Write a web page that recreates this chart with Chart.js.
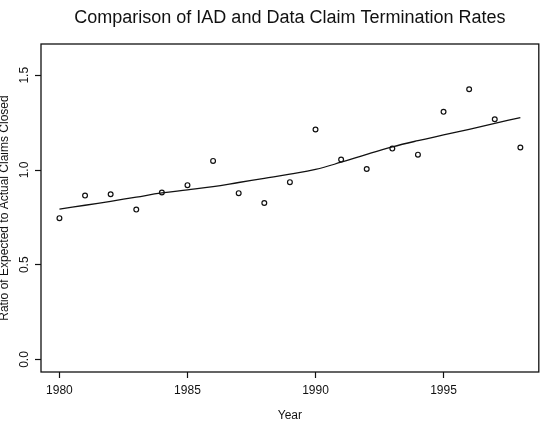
<!DOCTYPE html>
<html>
<head>
<meta charset="utf-8">
<title>IAD vs Data Claim Termination Rates</title>
<script src="https://cdn.jsdelivr.net/npm/chart.js@4/dist/chart.umd.min.js"></script>
<style>
  body { margin: 0; background: #fff; }
  #ratioChart { display: block; }
</style>
</head>
<body>
<canvas id="ratioChart" width="544" height="432"></canvas>
<script>
//data
var years = [1980, 1981, 1982, 1983, 1984, 1985, 1986, 1987, 1988, 1989,
             1990, 1991, 1992, 1993, 1994, 1995, 1996, 1997, 1998];
var ratios = [0.746, 0.865, 0.872, 0.791, 0.881, 0.920, 1.048, 0.878, 0.826, 0.936,
              1.214, 1.055, 1.005, 1.113, 1.081, 1.307, 1.426, 1.268, 1.119];
//smoothed curve (lowess) at each year
var smooth = [0.794, 0.814, 0.835, 0.857, 0.879, 0.895, 0.912, 0.934, 0.956, 0.978,
              1.003, 1.041, 1.083, 1.122, 1.155, 1.185, 1.215, 1.246, 1.277];
var xTicks = [1980, 1985, 1990, 1995];
var yTicks = [0.0, 0.5, 1.0, 1.5];

var chartTitle = 'Comparison of IAD and Data Claim Termination Rates';
var xTitle = 'Year';
var yTitle = 'Ratio of Expected to Actual Claims Closed';

var fontFamily = '"Liberation Sans", Arial, Helvetica, sans-serif';

//build {x,y} points for the linear x axis
function toPoints(xs, ys) {
  var pts = [];
  for (var i = 0; i < xs.length; i++) {
    pts.push({x: xs[i], y: ys[i]});
  }
  return pts;
}

//title over the plot + box round the plot, R style
var framePlugin = {
  id: 'frame',
  afterDraw: function (chart) {
    var ctx = chart.ctx;
    var a = chart.chartArea;
    ctx.save();
    ctx.strokeStyle = '#111';
    ctx.lineWidth = 1.3;
    ctx.strokeRect(a.left, a.top, a.right - a.left, a.bottom - a.top);
    ctx.fillStyle = '#111';
    ctx.font = '18px ' + fontFamily;
    ctx.textAlign = 'center';
    ctx.textBaseline = 'middle';
    ctx.fillText(chartTitle, (a.left + a.right) / 2, 18);
    ctx.restore();
  }
};

const data = {
  datasets: [{
    type: 'line',
    label: 'observed',
    data: toPoints(years, ratios),
    showLine: false,
    pointStyle: 'circle',
    pointRadius: 2.4,
    pointBorderWidth: 1.2,
    pointBorderColor: '#111',
    pointBackgroundColor: 'rgba(0,0,0,0)'
  }, {
    type: 'line',
    label: 'smooth',
    data: toPoints(years, smooth),
    borderColor: '#111',
    borderWidth: 1.3,
    pointRadius: 0,
    tension: 0.4,
    fill: false
  }]
};

const config = {
  type: 'line',
  data: data,
  options: {
    responsive: false,
    animation: false,
    devicePixelRatio: 1,
    layout: { padding: { left: 0, right: 5, top: 44, bottom: 0 } },
    plugins: {
      legend: { display: false },
      tooltip: { enabled: false }
    },
    scales: {
      x: {
        type: 'linear',
        min: 1979.28,
        max: 1998.72,
        bounds: 'data',
        afterFit: function (scale) { scale.height = 60; },
        afterBuildTicks: function (scale) {
          scale.ticks = xTicks.map(function (v) { return {value: v}; });
        },
        ticks: {
          color: '#111',
          font: { family: fontFamily, size: 12 },
          padding: 5,
          maxRotation: 0,
          autoSkip: false,
          callback: function (v) { return String(v); }
        },
        grid: {
          display: true,
          drawOnChartArea: false,
          drawTicks: true,
          tickLength: 6,
          tickColor: '#111',
          tickWidth: 1.2
        },
        border: { display: false },
        title: {
          display: true,
          text: xTitle,
          color: '#111',
          font: { family: fontFamily, size: 12 },
          padding: { top: 0, bottom: 9 }
        }
      },
      y: {
        type: 'linear',
        min: -0.066,
        max: 1.665,
        bounds: 'data',
        afterFit: function (scale) { scale.width = 41; },
        afterBuildTicks: function (scale) {
          scale.ticks = yTicks.map(function (v) { return {value: v}; });
        },
        ticks: {
          color: '#111',
          font: { family: fontFamily, size: 12 },
          padding: 2,
          minRotation: 90,
          maxRotation: 90,
          crossAlign: 'center',
          autoSkip: false,
          callback: function (v) { return v.toFixed(1); }
        },
        grid: {
          display: true,
          drawOnChartArea: false,
          drawTicks: true,
          tickLength: 6,
          tickColor: '#111',
          tickWidth: 1.2
        },
        border: { display: false },
        title: {
          display: true,
          text: yTitle,
          color: '#111',
          font: { family: fontFamily, size: 12 },
          padding: { top: -3, bottom: 0 }
        }
      }
    }
  },
  plugins: [framePlugin]
};

var ctx = document.getElementById('ratioChart');
var ratioChart = new Chart(ctx, config);
</script>
</body>
</html>
